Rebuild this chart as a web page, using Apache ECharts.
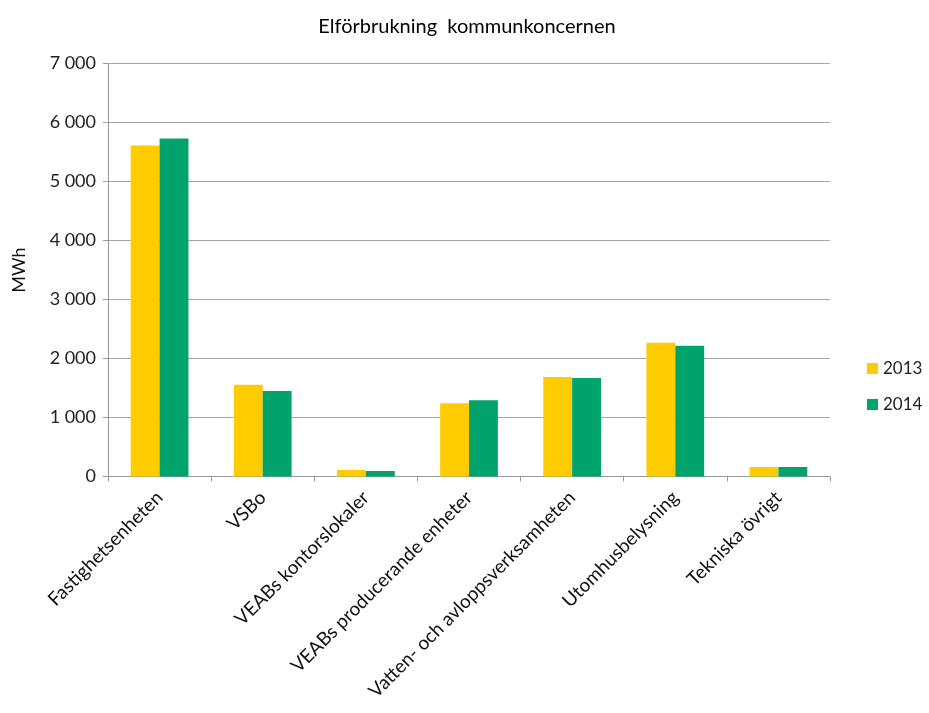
<!DOCTYPE html>
<html>
<head>
<meta charset="utf-8">
<script src="https://cdn.jsdelivr.net/npm/echarts@6/dist/echarts.min.js"></script>
<style>
  html, body { margin: 0; padding: 0; background: #fff; }
  #draw { width: 929px; height: 713px; }
</style>
</head>
<body>
<div id="draw"></div>
<script>
  // data
  var categories = ['Fastighetsenheten', 'VSBo', 'VEABs kontorslokaler', 'VEABs producerande enheter',
    'Vatten- och avloppsverksamheten', 'Utomhusbelysning', 'Tekniska övrigt']
  var values2013 = [5610, 1553, 110, 1242, 1688, 2265, 161]
  var values2014 = [5730, 1451, 93, 1293, 1671, 2214, 161]
  var seriesNames = ['2013', '2014']
  var colors = ['#ffcc00', '#00a36c']

  var myChart = echarts.init(document.getElementById('draw'))
  var font = 'Lato, "Open Sans", sans-serif'

  myChart.setOption({
    animation: false,
    title: { //  标题
      text: 'Elförbrukning  kommunkoncernen',
      left: 462,
      top: 12,
      textAlign: 'center',
      textStyle: {
        fontFamily: font,
        fontWeight: 'normal',
        fontSize: 20,
        color: '#000'
      }
    },
    legend: {
      orient: 'vertical',
      left: 862,
      top: 355,
      icon: 'rect',
      itemWidth: 11,
      itemHeight: 11,
      itemGap: 19,
      data: seriesNames,
      textStyle: {
        fontFamily: font,
        fontSize: 17,
        color: '#222'
      }
    },
    grid: {
      left: 108,
      right: 99,
      top: 63.5,
      bottom: 236.5,
      containLabel: false
    },
    xAxis: [{
      type: 'category',
      data: categories,
      axisLine: { lineStyle: { color: '#999', width: 1 } },
      axisTick: { show: true, alignWithLabel: false, length: 5, lineStyle: { color: '#999' } },
      axisLabel: {
        interval: 0,
        rotate: 45,
        margin: 18,
        fontFamily: font,
        fontSize: 19,
        color: '#111'
      }
    }],
    yAxis: [{
      type: 'value',
      name: 'MWh',
      nameLocation: 'middle',
      nameGap: 80,
      nameRotate: 90,
      nameTextStyle: {
        fontFamily: font,
        fontSize: 18,
        color: '#111'
      },
      min: 0,
      max: 7000,
      interval: 1000,
      axisLine: { show: true, lineStyle: { color: '#999' } },
      axisTick: { show: true, length: 5, lineStyle: { color: '#999' } },
      axisLabel: {
        margin: 12,
        fontFamily: font,
        fontSize: 18,
        color: '#222',
        formatter: function (v) {
          return String(v).replace(/\B(?=(\d{3})+(?!\d))/g, ' ')
        }
      },
      splitLine: { lineStyle: { color: '#a6a6a6', width: 1 } }
    }],
    series: [{
      name: seriesNames[0],
      type: 'bar',
      barGap: '0%',
      barCategoryGap: '44%',
      itemStyle: { color: colors[0] },
      data: values2013
    }, {
      name: seriesNames[1],
      type: 'bar',
      itemStyle: { color: colors[1] },
      data: values2014
    }]
  })
</script>
</body>
</html>
